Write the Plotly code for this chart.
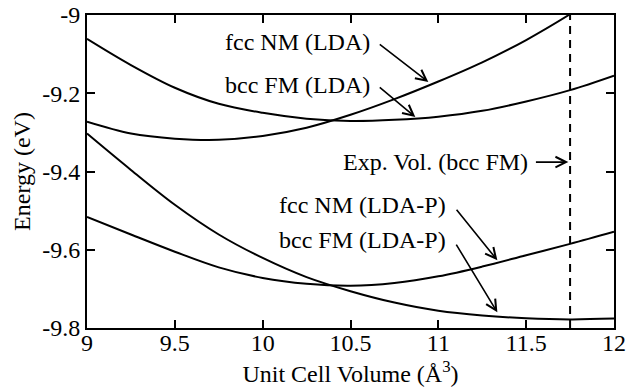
import plotly.graph_objects as go

# Volumes (Å^3) at which the curves were read
volume = [9.0, 9.25, 9.5, 9.75, 10.0, 10.25, 10.5, 10.75, 11.0, 11.25, 11.5, 11.75, 12.0]

fcc_nm_lda = [-9.273, -9.303, -9.316, -9.319, -9.309, -9.288, -9.255, -9.215, -9.170, -9.121, -9.064, -8.998, -8.925]
bcc_fm_lda = [-9.061, -9.128, -9.186, -9.227, -9.250, -9.265, -9.271, -9.268, -9.260, -9.245, -9.221, -9.192, -9.155]
fcc_nm_ldap = [-9.516, -9.561, -9.605, -9.645, -9.672, -9.687, -9.692, -9.685, -9.668, -9.643, -9.614, -9.585, -9.554]
bcc_fm_ldap = [-9.303, -9.396, -9.485, -9.561, -9.621, -9.670, -9.706, -9.735, -9.756, -9.768, -9.775, -9.778, -9.776]

exp_volume = 11.75

x_tick_vals = [9, 9.5, 10, 10.5, 11, 11.5, 12]
x_tick_text = ["9", "9.5", "10", "10.5", "11", "11.5", "12"]
y_tick_vals = [-9.0, -9.2, -9.4, -9.6, -9.8]
y_tick_text = ["-9", "-9.2", "-9.4", "-9.6", "-9.8"]

# label text, text anchor (right edge), arrow tail, arrow head (data coords)
labels = [
    ("fcc NM (LDA)", 10.624, -9.069, 10.658, -9.072, 10.943, -9.171),
    ("bcc FM (LDA)", 10.624, -9.179, 10.658, -9.182, 10.869, -9.261),
    ("Exp. Vol. (bcc FM)", 11.524, -9.376, 11.547, -9.376, 11.740, -9.376),
    ("fcc NM (LDA-P)", 11.057, -9.486, 11.097, -9.494, 11.336, -9.627),
    ("bcc FM (LDA-P)", 11.057, -9.576, 11.097, -9.583, 11.336, -9.760),
]

FONT = "Liberation Serif"
FS = 24

fig = go.Figure()
for name, ys in [("fcc NM (LDA)", fcc_nm_lda), ("bcc FM (LDA)", bcc_fm_lda),
                 ("fcc NM (LDA-P)", fcc_nm_ldap), ("bcc FM (LDA-P)", bcc_fm_ldap)]:
    fig.add_trace(go.Scatter(x=volume, y=ys, mode="lines", name=name,
                             line=dict(color="black", width=2, shape="spline", smoothing=1.0)))

fig.add_trace(go.Scatter(x=[exp_volume, exp_volume], y=[-9.8, -9.0], mode="lines",
                         line=dict(color="black", width=2, dash="8px,6px"), name="Exp. Vol."))

annotations = []
for text, tx, ty, ax, ay, hx, hy in labels:
    annotations.append(dict(x=tx, y=ty, xref="x", yref="y", text=text, showarrow=False,
                            xanchor="right", yanchor="middle",
                            font=dict(family=FONT, size=FS, color="black")))
    annotations.append(dict(x=hx, y=hy, ax=ax, ay=ay, xref="x", yref="y", axref="x", ayref="y",
                            text="", showarrow=True, arrowhead=5, arrowsize=1.3,
                            arrowwidth=1.6, arrowcolor="black"))

fig.update_layout(
    width=627, height=392,
    margin=dict(l=87, r=13, t=15, b=64),
    paper_bgcolor="white", plot_bgcolor="white",
    showlegend=False,
    font=dict(family=FONT, size=FS, color="black"),
    annotations=annotations,
)
fig.update_xaxes(range=[9, 12], tickvals=x_tick_vals, ticktext=x_tick_text,
                 ticks="inside", ticklen=8, tickwidth=2, tickcolor="black",
                 showline=True, linewidth=2, linecolor="black", mirror="ticks",
                 showgrid=False, zeroline=False, automargin=False,
                 ticklabelstandoff=-8,
                 title=dict(text="Unit Cell Volume (Å<sup>3</sup>)", standoff=10,
                            font=dict(family=FONT, size=FS)),
                 tickfont=dict(family=FONT, size=FS))
fig.update_yaxes(range=[-9.8, -9.0], tickvals=y_tick_vals, ticktext=y_tick_text,
                 ticks="inside", ticklen=8, tickwidth=2, tickcolor="black",
                 showline=True, linewidth=2, linecolor="black", mirror="ticks",
                 showgrid=False, zeroline=False, automargin=False, ticklabelstandoff=0,
                 title=dict(text="Energy (eV)", standoff=5,
                            font=dict(family=FONT, size=FS)),
                 tickfont=dict(family=FONT, size=FS))

fig.write_html("out.html", config={"displayModeBar": False},
               post_script="document.body.style.margin='0';")
